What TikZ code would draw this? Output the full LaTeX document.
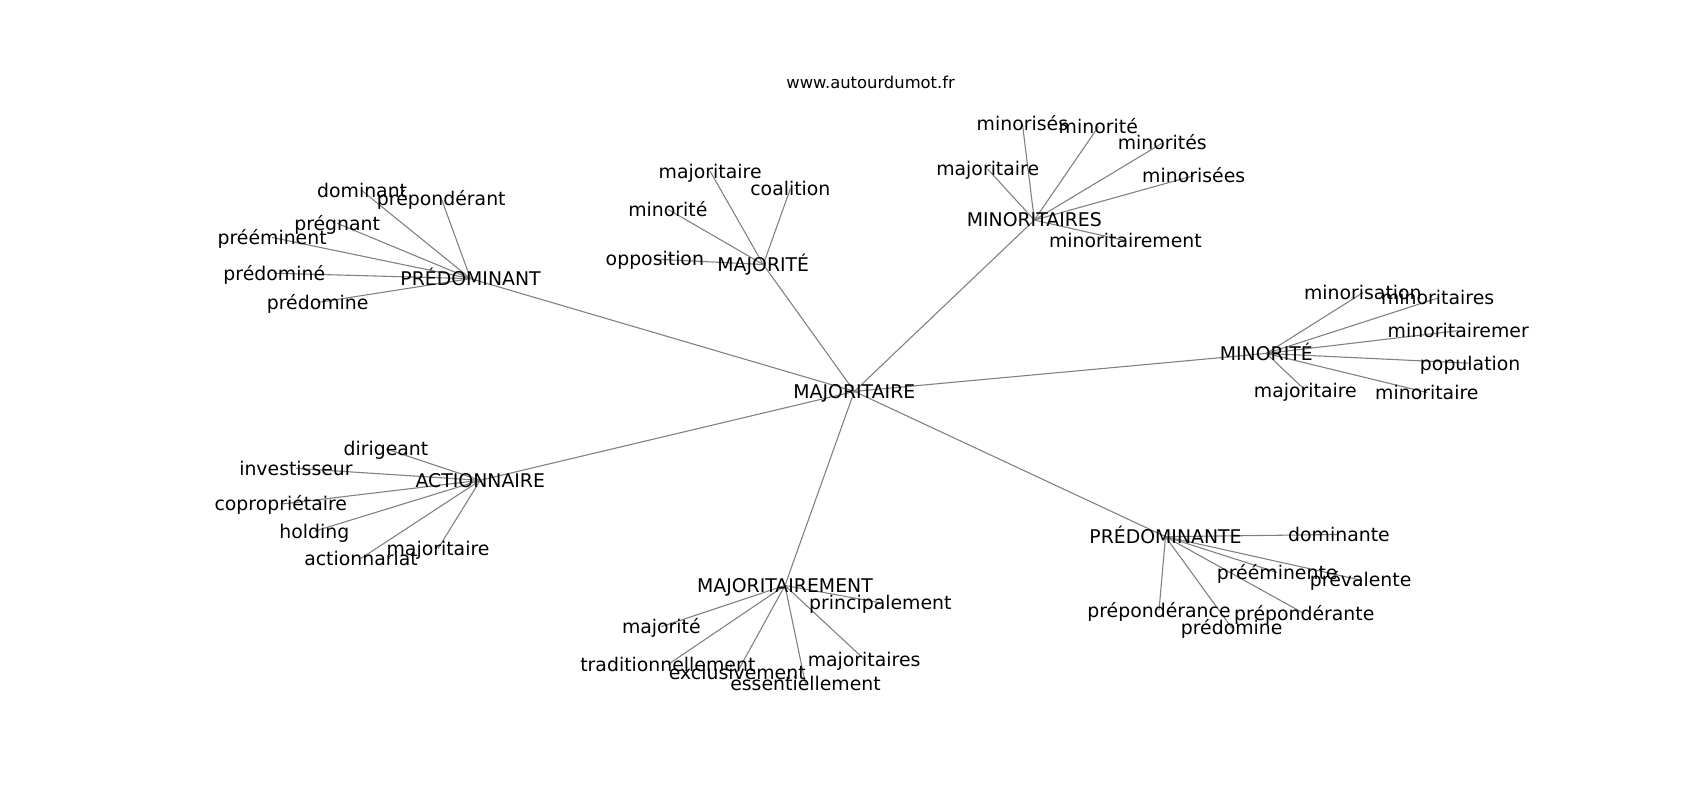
\documentclass[tikz,border=0pt]{standalone}
\usepackage{fontspec}
\setmainfont{DejaVu Sans}
\usetikzlibrary{backgrounds}
\begin{document}
\begin{tikzpicture}[x=1pt,y=-1pt,
  lbl/.style={font=\fontsize{17.4}{20}\selectfont, inner sep=0pt, text height=16.8pt, text depth=4.2pt, anchor=center},
  ttl/.style={font=\fontsize{15.1}{17}\selectfont, inner sep=0pt, anchor=center},
  edge/.style={draw=gray, line width=1pt}]
\useasboundingbox (0,0) rectangle (1568,738);
\node[ttl] (title) at (803,76) {www.autourdumot.fr};
% centre
\node[lbl] (c) at (788,361) {MAJORITAIRE};
% hubs
\node[lbl] (h1) at (434,257) {PRÉDOMINANT};
\node[lbl] (h2) at (704,244) {MAJORITÉ};
\node[lbl] (h3) at (954,203) {MINORITAIRES};
\node[lbl] (h4) at (1168,326) {MINORITÉ};
\node[lbl] (h5) at (443,443) {ACTIONNAIRE};
\node[lbl] (h6) at (724,540) {MAJORITAIREMENT};
\node[lbl] (h7) at (1075,495) {PRÉDOMINANTE};
% PRÉDOMINANT leaves
\node[lbl] (a1) at (334,176) {dominant};
\node[lbl] (a2) at (407,183) {prépondérant};
\node[lbl] (a3) at (311,206) {prégnant};
\node[lbl] (a4) at (251,219) {prééminent};
\node[lbl] (a5) at (253,252) {prédominé};
\node[lbl] (a6) at (293,279) {prédomine};
% MAJORITÉ leaves
\node[lbl] (b1) at (655,158) {majoritaire};
\node[lbl] (b2) at (729,174) {coalition};
\node[lbl] (b3) at (616,193) {minorité};
\node[lbl] (b4) at (604,239) {opposition};
% MINORITAIRES leaves
\node[lbl] (d1) at (943,114) {minorisés};
\node[lbl] (d2) at (1013,117) {minorité};
\node[lbl] (d3) at (1072,132) {minorités};
\node[lbl] (d4) at (911,156) {majoritaire};
\node[lbl] (d5) at (1101,162) {minorisées};
\node[lbl] (d6) at (1038,222) {minoritairement};
% MINORITÉ leaves
\node[lbl] (e1) at (1257,270) {minorisation};
\node[lbl] (e2) at (1326,275) {minoritaires};
\node[lbl] (e3) at (1345,305) {minoritairemer};
\node[lbl] (e4) at (1356,335) {population};
\node[lbl] (e5) at (1204,360) {majoritaire};
\node[lbl] (e6) at (1316,362) {minoritaire};
% ACTIONNAIRE leaves
\node[lbl] (f1) at (356,414) {dirigeant};
\node[lbl] (f2) at (273,432) {investisseur};
\node[lbl] (f3) at (259,465) {copropriétaire};
\node[lbl] (f4) at (290,490) {holding};
\node[lbl] (f5) at (333,515) {actionnariat};
\node[lbl] (f6) at (404,506) {majoritaire};
% MAJORITAIREMENT leaves
\node[lbl] (g1) at (812,556) {principalement};
\node[lbl] (g2) at (610,578) {majorité};
\node[lbl] (g3) at (616,613) {traditionnellement};
\node[lbl] (g4) at (680,620) {exclusivement};
\node[lbl] (g5) at (743,631) {essentiellement};
\node[lbl] (g6) at (797,608) {majoritaires};
% PRÉDOMINANTE leaves
\node[lbl] (k1) at (1235,493) {dominante};
\node[lbl] (k2) at (1178,528) {prééminente};
\node[lbl] (k3) at (1255,535) {prévalente};
\node[lbl] (k4) at (1069,563) {prépondérance};
\node[lbl] (k5) at (1203,566) {prépondérante};
\node[lbl] (k6) at (1136,579) {prédomine};
\begin{pgfonlayer}{background}
\foreach \h in {h1,h2,h3,h4,h5,h6,h7} \draw[edge] (c.center) -- (\h.center);
\foreach \l in {a1,a2,a3,a4,a5,a6} \draw[edge] (h1.center) -- (\l.center);
\foreach \l in {b1,b2,b3,b4} \draw[edge] (h2.center) -- (\l.center);
\foreach \l in {d1,d2,d3,d4,d5,d6} \draw[edge] (h3.center) -- (\l.center);
\foreach \l in {e1,e2,e3,e4,e5,e6} \draw[edge] (h4.center) -- (\l.center);
\foreach \l in {f1,f2,f3,f4,f5,f6} \draw[edge] (h5.center) -- (\l.center);
\foreach \l in {g1,g2,g3,g4,g5,g6} \draw[edge] (h6.center) -- (\l.center);
\foreach \l in {k1,k2,k3,k4,k5,k6} \draw[edge] (h7.center) -- (\l.center);
\end{pgfonlayer}
\end{tikzpicture}
\end{document}
